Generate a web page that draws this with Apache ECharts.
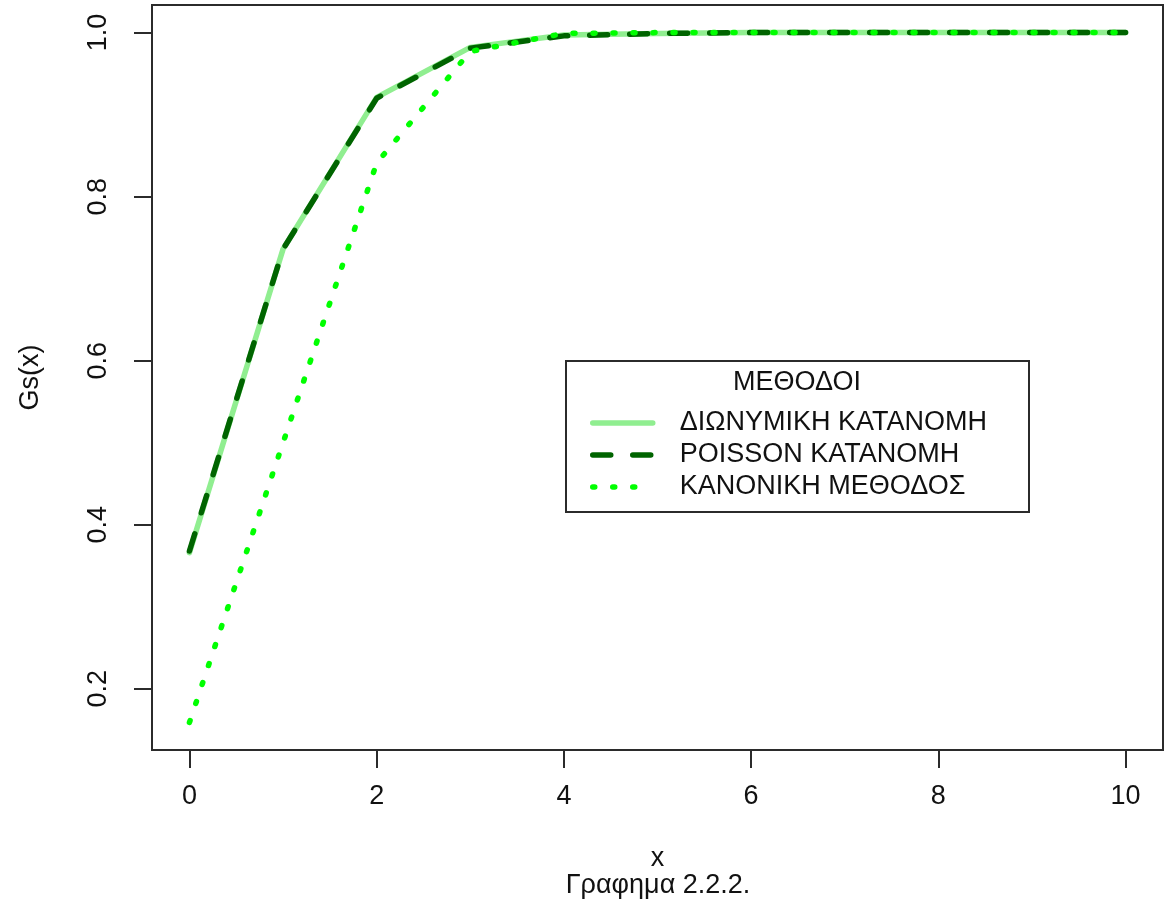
<!DOCTYPE html>
<html>
<head>
<meta charset="utf-8">
<script src="https://cdn.jsdelivr.net/npm/echarts@6/dist/echarts.min.js"></script>
<style>
  html, body { margin: 0; padding: 0; background: #fff; }
  #chart { width: 1165px; height: 904px; }
</style>
</head>
<body>
<div id="chart"></div>
<script>
// x values 0..10 and the cumulative probabilities Gs(x) for each method
const xValues = [0, 1, 2, 3, 4, 5, 6, 7, 8, 9, 10];
const binomialCdf = [0.366, 0.736, 0.921, 0.982, 0.997, 0.999, 1.000, 1.000, 1.000, 1.000, 1.000];
const poissonCdf  = [0.368, 0.736, 0.920, 0.981, 0.996, 0.999, 1.000, 1.000, 1.000, 1.000, 1.000];
const normalCdf   = [0.159, 0.500, 0.841, 0.977, 0.999, 1.000, 1.000, 1.000, 1.000, 1.000, 1.000];

// tick positions on each axis
const xTicks = [0, 2, 4, 6, 8, 10];
const yTicks = [0.2, 0.4, 0.6, 0.8, 1.0];

const seriesNames = ['ΔΙΩΝΥΜΙΚΗ ΚΑΤΑΝΟΜΗ', 'POISSON ΚΑΤΑΝΟΜΗ', 'ΚΑΝΟΝΙΚΗ ΜΕΘΟΔΟΣ'];
const legendTitle = 'ΜΕΘΟΔΟΙ';
const xTitle = 'x';
const yTitle = 'Gs(x)';
const caption = 'Γραφημα 2.2.2.';

const FONT = '"Liberation Sans", Arial, sans-serif';
const FS = 27;
const INK = '#111';
const FRAME = '#2b2b2b';
const LW = 5.5;

// data range padded by 4% on each side, like a classic statistics plot
function padded(lo, hi) {
  const d = (hi - lo) * 0.04;
  return [lo - d, hi + d];
}
const allY = binomialCdf.concat(poissonCdf, normalCdf);
const xRange = padded(Math.min(...xValues), Math.max(...xValues));
const yRange = padded(Math.min(...allY), Math.max(...allY));

const pairs = ys => xValues.map((x, i) => [x, ys[i]]);

const chart = echarts.init(document.getElementById('chart'), null, { renderer: 'canvas' });

chart.setOption({
  backgroundColor: '#fff',
  animation: false,
  textStyle: { fontFamily: FONT },
  title: {
    text: caption,
    left: 658,
    textAlign: 'center',
    top: 872,
    padding: 0,
    textStyle: { fontFamily: FONT, fontSize: FS, fontWeight: 'normal', color: INK }
  },
  grid: {
    left: 152, top: 5, width: 1011, height: 745, show: true,
    borderColor: FRAME, borderWidth: 2, backgroundColor: 'transparent'
  },
  xAxis: {
    type: 'value', min: xRange[0], max: xRange[1],
    axisLine: { show: false, onZero: false },
    axisTick: { show: true, inside: false, length: 18, customValues: xTicks,
      lineStyle: { color: FRAME, width: 2 } },
    axisLabel: { customValues: xTicks, margin: 33, fontFamily: FONT, fontSize: FS, color: INK },
    splitLine: { show: false },
    name: xTitle, nameLocation: 'middle', nameGap: 95,
    nameTextStyle: { fontFamily: FONT, fontSize: FS, color: INK }
  },
  yAxis: {
    type: 'value', min: yRange[0], max: yRange[1],
    axisLine: { show: false, onZero: false },
    axisTick: { show: true, inside: false, length: 18, customValues: yTicks,
      lineStyle: { color: FRAME, width: 2 } },
    axisLabel: { customValues: yTicks, margin: 40, rotate: 90, fontFamily: FONT, fontSize: FS,
      color: INK, formatter: v => v.toFixed(1) },
    splitLine: { show: false },
    name: yTitle, nameLocation: 'middle', nameGap: 108, nameRotate: 90,
    nameTextStyle: { fontFamily: FONT, fontSize: FS, color: INK }
  },
  legend: {
    orient: 'vertical',
    left: 590,
    top: 407,
    padding: 0,
    itemGap: 0,
    itemWidth: 60,
    itemHeight: 14,
    data: seriesNames,
    itemStyle: { opacity: 0 },
    lineStyle: { width: LW, cap: 'round' },
    textStyle: { fontFamily: FONT, fontSize: FS, color: INK, lineHeight: 32, padding: [0, 0, 0, 22] }
  },
  graphic: [
    { type: 'rect', z: 1,
      shape: { x: 566, y: 361, width: 463, height: 151 },
      style: { fill: '#fff', stroke: FRAME, lineWidth: 2 } },
    { type: 'text', z: 2,
      style: { text: legendTitle, x: 797, y: 369, align: 'center', verticalAlign: 'top',
        fontFamily: FONT, fontSize: FS, fill: INK } }
  ],
  series: [
    { name: seriesNames[0], type: 'line', data: pairs(binomialCdf),
      symbol: 'none', clip: false, z: 2, color: '#90EE90',
      lineStyle: { color: '#90EE90', width: LW, cap: 'round', join: 'round' } },
    { name: seriesNames[1], type: 'line', data: pairs(poissonCdf),
      symbol: 'none', clip: false, z: 3, color: '#006400',
      lineStyle: { color: '#006400', width: LW, type: [18, 22], cap: 'round', join: 'round' } },
    { name: seriesNames[2], type: 'line', data: pairs(normalCdf),
      symbol: 'none', clip: false, z: 4, color: '#00FF00',
      lineStyle: { color: '#00FF00', width: LW, type: [2, 18], cap: 'round', join: 'round' } }
  ]
});
</script>
</body>
</html>
